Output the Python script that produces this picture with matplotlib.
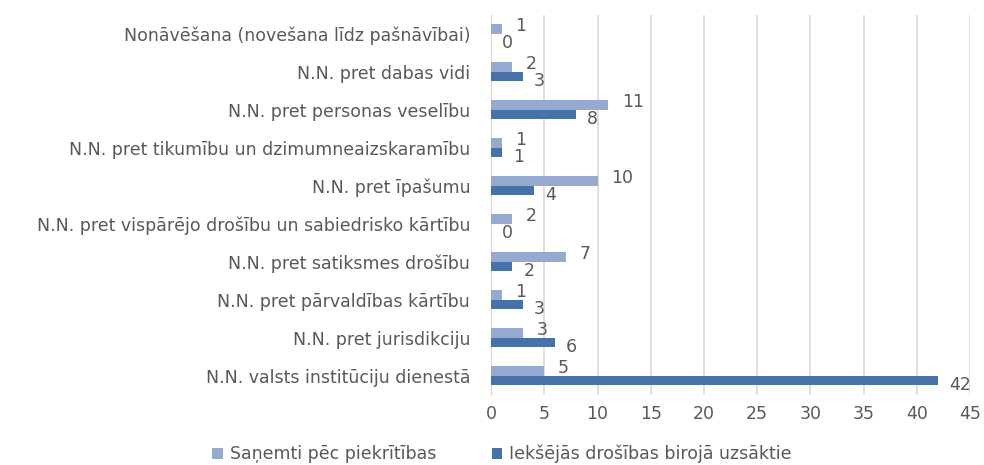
import numpy as np
import matplotlib.pyplot as plt

plt.rcParams['font.family'] = ['DejaVu Sans']

categories = ['Nonāvēšana (novešana līdz pašnāvībai)',
              'N.N. pret dabas vidi',
              'N.N. pret personas veselību',
              'N.N. pret tikumību un dzimumneaizskaramību',
              'N.N. pret īpašumu',
              'N.N. pret vispārējo drošību un sabiedrisko kārtību',
              'N.N. pret satiksmes drošību',
              'N.N. pret pārvaldības kārtību',
              'N.N. pret jurisdikciju',
              'N.N. valsts institūciju dienestā']
received = [1, 2, 11, 1, 10, 2, 7, 1, 3, 5]
initiated = [0, 3, 8, 1, 4, 0, 2, 3, 6, 42]
series_names = ['Saņemti pēc piekrītības', 'Iekšējās drošības birojā uzsāktie']

light = '#95a9d1'
dark = '#4672a8'
text_col = '#595959'
fs = 12.5

fig = plt.figure(figsize=(9.84, 4.65), dpi=100)
ax = fig.add_axes([0.499, 0.151, 0.487, 0.817])

y = np.arange(len(categories))
h = 0.25
b1 = ax.barh(y - h / 2, received, height=h, color=light, label=series_names[0], zorder=3)
b2 = ax.barh(y + h / 2, initiated, height=h, color=dark, label=series_names[1], zorder=3)

# data labels
for bar, v in zip(b1, received):
    ax.annotate(str(v), (bar.get_width(), bar.get_y() + bar.get_height() / 2),
                xytext=(10, 2), textcoords='offset points', va='center', ha='left',
                fontsize=fs, color=text_col)
for bar, v in zip(b2, initiated):
    ax.annotate(str(v), (bar.get_width(), bar.get_y() + bar.get_height() / 2),
                xytext=(8, -3), textcoords='offset points', va='center', ha='left',
                fontsize=fs, color=text_col)

ax.set_yticks(y)
ax.set_yticklabels(categories)
ax.set_ylim(len(categories) - 0.5, -0.5)
ax.set_xlim(0, 45)
ax.set_xticks(range(0, 46, 5))
ax.tick_params(axis='both', length=0, colors=text_col, labelsize=fs)
ax.tick_params(axis='y', pad=15)
ax.tick_params(axis='x', pad=7)
ax.grid(axis='x', color='#d9d9d9', linewidth=1.2, zorder=0)
for s in ['top', 'right', 'bottom']:
    ax.spines[s].set_visible(False)
ax.spines['left'].set_color('#d9d9d9')

fig.legend(loc='lower center', bbox_to_anchor=(0.51, -0.03), ncol=2, frameon=False,
           fontsize=fs, labelcolor=text_col, handlelength=0.6, handleheight=0.6,
           columnspacing=3.2, handletextpad=0.4)

fig.savefig('out.png', dpi=100)
